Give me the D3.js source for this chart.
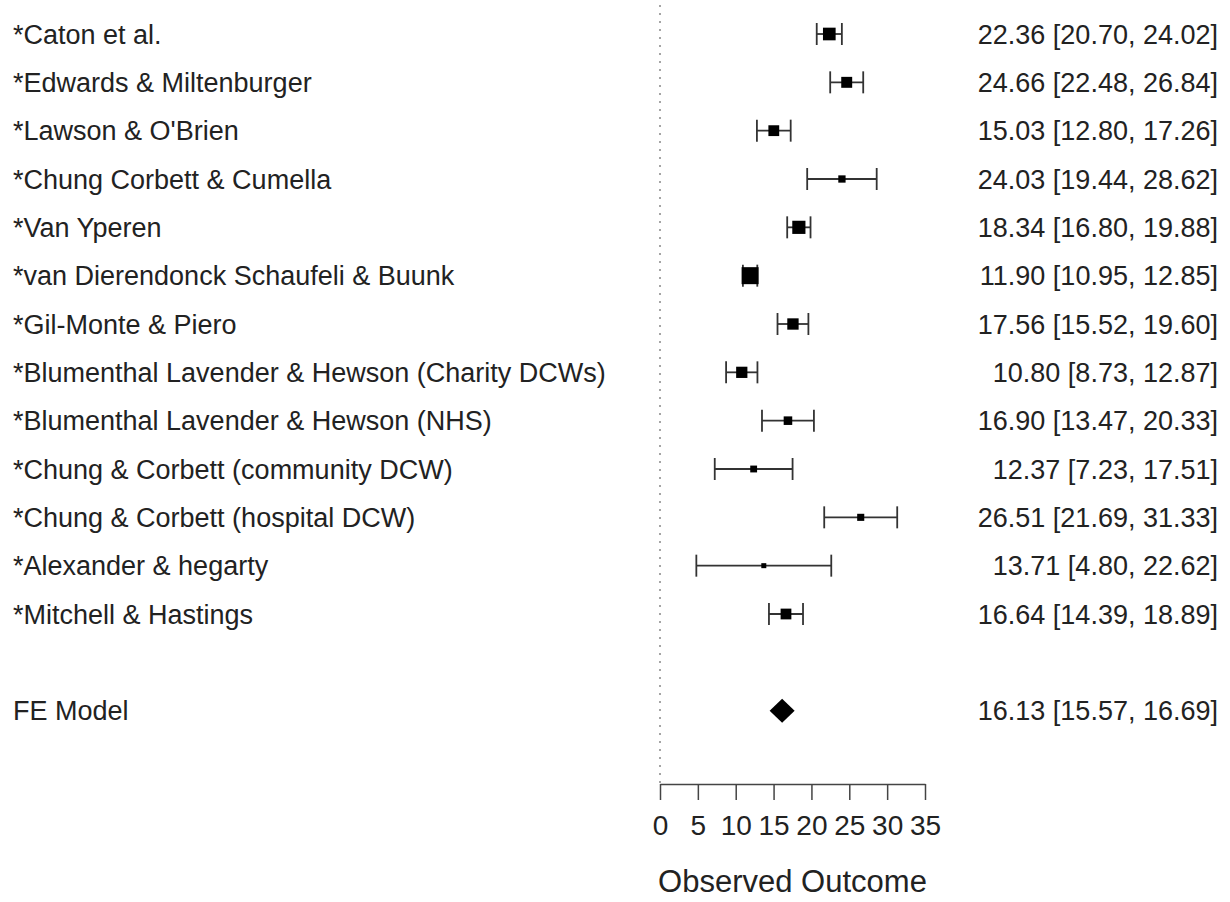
<!DOCTYPE html>
<html>
<head>
<meta charset="utf-8">
<script src="https://cdn.jsdelivr.net/npm/d3@7"></script>
<style>
  html, body { margin: 0; padding: 0; background: #fff; }
  svg { display: block; }
  text { font-family: "Liberation Sans", Arial, sans-serif; fill: #222; }
</style>
</head>
<body>
<svg id="chart" width="1230" height="902"></svg>
<script>
const studies = [
  "*Caton et al.",
  "*Edwards & Miltenburger",
  "*Lawson & O'Brien",
  "*Chung Corbett & Cumella",
  "*Van Yperen",
  "*van Dierendonck Schaufeli & Buunk",
  "*Gil-Monte & Piero",
  "*Blumenthal Lavender & Hewson (Charity DCWs)",
  "*Blumenthal Lavender & Hewson (NHS)",
  "*Chung & Corbett (community DCW)",
  "*Chung & Corbett (hospital DCW)",
  "*Alexander & hegarty",
  "*Mitchell & Hastings"
];
const estimates = [22.36, 24.66, 15.03, 24.03, 18.34, 11.90, 17.56, 10.80, 16.90, 12.37, 26.51, 13.71, 16.64];
const lower     = [20.70, 22.48, 12.80, 19.44, 16.80, 10.95, 15.52, 8.73, 13.47, 7.23, 21.69, 4.80, 14.39];
const upper     = [24.02, 26.84, 17.26, 28.62, 19.88, 12.85, 19.60, 12.87, 20.33, 17.51, 31.33, 22.62, 18.89];
const summaryLabel = "FE Model";
const summary = { est: 16.13, lb: 15.57, ub: 16.69 };
const xTicks = [0, 5, 10, 15, 20, 25, 30, 35];
const xTitle = "Observed Outcome";

const svg = d3.select("#chart");
const fmt = d3.format(".2f");
const FS = 27;

const x = d3.scaleLinear().domain([0, 35]).range([660, 925]);
const y = d3.scaleLinear().domain([1, 13]).range([34, 614]);

// precision-based square size
const prec = estimates.map((d, i) => Math.sqrt(1 / ((upper[i] - lower[i]) / 2)));
const size = d3.scaleLinear().domain(d3.extent(prec)).range([5, 17]);

// reference dotted line at 0
svg.append("line")
  .attr("x1", x(0)).attr("x2", x(0))
  .attr("y1", 5).attr("y2", 784)
  .attr("stroke", "#888").attr("stroke-width", 1.5)
  .attr("stroke-dasharray", "2,6");

const rows = svg.append("g").selectAll("g")
  .data(studies.map((s, i) => ({ s, i, est: estimates[i], lb: lower[i], ub: upper[i] })))
  .join("g");

const wc = "#333";
rows.append("line")
  .attr("x1", d => x(d.lb)).attr("x2", d => x(d.ub))
  .attr("y1", d => y(d.i + 1)).attr("y2", d => y(d.i + 1))
  .attr("stroke", wc).attr("stroke-width", 1.8);
rows.append("line")
  .attr("x1", d => x(d.lb)).attr("x2", d => x(d.lb))
  .attr("y1", d => y(d.i + 1) - 11).attr("y2", d => y(d.i + 1) + 11)
  .attr("stroke", wc).attr("stroke-width", 1.8);
rows.append("line")
  .attr("x1", d => x(d.ub)).attr("x2", d => x(d.ub))
  .attr("y1", d => y(d.i + 1) - 11).attr("y2", d => y(d.i + 1) + 11)
  .attr("stroke", wc).attr("stroke-width", 1.8);
rows.append("rect")
  .attr("x", d => x(d.est) - size(prec[d.i]) / 2)
  .attr("y", d => y(d.i + 1) - size(prec[d.i]) / 2)
  .attr("width", d => size(prec[d.i]))
  .attr("height", d => size(prec[d.i]))
  .attr("fill", "#000");

rows.append("text")
  .attr("x", 13).attr("y", d => y(d.i + 1)).attr("dy", "0.36em")
  .attr("font-size", FS)
  .text(d => d.s);
rows.append("text")
  .attr("x", 1218).attr("y", d => y(d.i + 1)).attr("dy", "0.36em")
  .attr("font-size", FS).attr("text-anchor", "end")
  .text(d => `${fmt(d.est)} [${fmt(d.lb)}, ${fmt(d.ub)}]`);

// summary row
const ySum = y(15);
const cx = x(summary.est);
svg.append("path")
  .attr("d", `M${cx - 12.5},${ySum} L${cx},${ySum - 12} L${cx + 12.5},${ySum} L${cx},${ySum + 12} Z`)
  .attr("fill", "#000");
svg.append("text")
  .attr("x", 13).attr("y", ySum).attr("dy", "0.36em")
  .attr("font-size", FS).text(summaryLabel);
svg.append("text")
  .attr("x", 1218).attr("y", ySum).attr("dy", "0.36em")
  .attr("font-size", FS).attr("text-anchor", "end")
  .text(`${fmt(summary.est)} [${fmt(summary.lb)}, ${fmt(summary.ub)}]`);

// axis
const axis = svg.append("g")
  .attr("transform", "translate(0,784)")
  .call(d3.axisBottom(x).tickValues(xTicks).tickSize(16).tickPadding(15).tickSizeOuter(0));
axis.select(".domain").attr("stroke", "#444").attr("stroke-width", 1.5);
axis.selectAll(".tick line").attr("stroke", "#444").attr("stroke-width", 1.5);
axis.selectAll(".tick text")
  .attr("font-size", 28)
  .attr("font-family", "Liberation Sans, Arial, sans-serif")
  .attr("fill", "#222");

svg.append("text")
  .attr("x", x(17.5)).attr("y", 892)
  .attr("text-anchor", "middle")
  .attr("font-size", 31)
  .text(xTitle);
</script>
</body>
</html>
